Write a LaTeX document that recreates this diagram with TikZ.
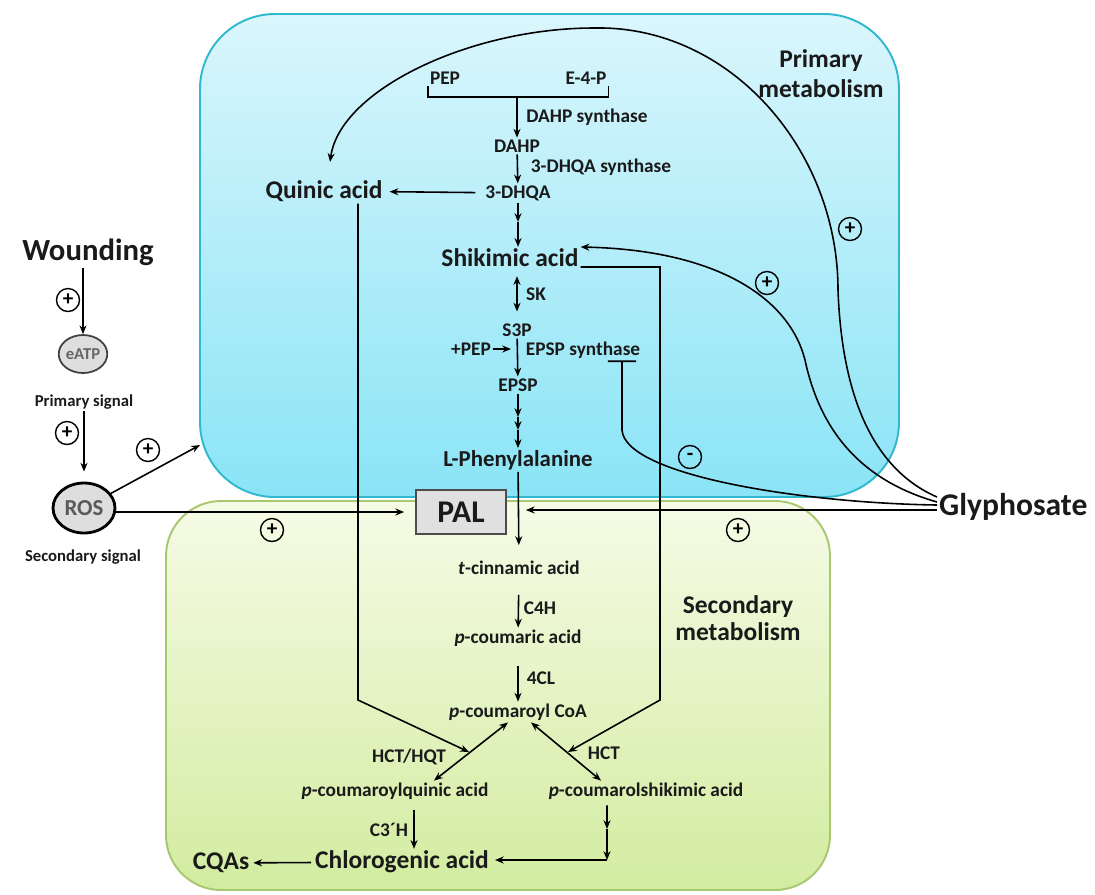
\documentclass[tikz,border=0pt]{standalone}
\usepackage{fontspec}
\setmainfont{Carlito}
\usetikzlibrary{arrows.meta,shapes.geometric}

\definecolor{bluetop}{RGB}{218,246,252}
\definecolor{bluebot}{RGB}{138,228,246}
\definecolor{blueline}{RGB}{48,184,206}
\definecolor{greentop}{RGB}{246,251,230}
\definecolor{greenbot}{RGB}{210,236,160}
\definecolor{greenline}{RGB}{168,200,112}
\definecolor{ink}{RGB}{26,26,26}

\tikzset{
  cpd/.style={font=\bfseries\fontsize{11}{13}\selectfont, text=ink, inner sep=1pt},
  big/.style={font=\bfseries\fontsize{14.5}{17}\selectfont, text=ink, inner sep=1pt},
  phe/.style={font=\bfseries\fontsize{13}{15}\selectfont, text=ink, inner sep=1pt},
  huge/.style={font=\bfseries\fontsize{17.5}{20}\selectfont, text=ink, inner sep=1pt},
  sig/.style={font=\bfseries\fontsize{9.5}{11}\selectfont, text=ink, inner sep=1pt},
  sgn/.style={circle, draw, line width=0.8pt, inner sep=0pt, minimum size=0.46cm,
    font=\bfseries\fontsize{12}{12}\selectfont},
  palbox/.style={draw=black!70, fill=black!12, line width=1pt, minimum width=1.8cm,
    minimum height=0.88cm, font=\bfseries\fontsize{18}{20}\selectfont, text=ink},
  arr/.style={-{Stealth[length=5pt,width=4pt]}, line width=0.9pt},
  dbl/.style={{Stealth[length=5pt,width=4pt]}-{Stealth[length=5pt,width=4pt]}, line width=0.9pt},
  inh/.style={-{Bar[width=16pt]}, line width=0.9pt}
}

\begin{document}
\begin{tikzpicture}[x=0.02cm, y=-0.02cm]
  \useasboundingbox (0,0) rectangle (1095,894);

  % Draw compartments
  \draw[draw=greenline, line width=1.1pt, top color=greentop, bottom color=greenbot,
    rounded corners=1.1cm] (166,501) rectangle (830,890);
  \draw[draw=blueline, line width=1.1pt, top color=bluetop, bottom color=bluebot,
    rounded corners=1.5cm] (200,14) rectangle (899,497);
  \node[big, align=center] (prim) at (821,74) {Primary\\metabolism};
  \node[big, align=center] (sec) at (738,618) {Secondary\\[-2pt]metabolism};

  % Shikimate pathway
  \node[cpd] (PEP) at (445,78) {PEP};
  \node[cpd] (E4P) at (586,78) {E-4-P};
  \node[cpd] (DAHP) at (517,146) {DAHP};
  \node[cpd] (DHQA) at (518,193) {3-DHQA};
  \node[big] (Quinic) at (324,191) {Quinic acid};
  \node[big] (Shik) at (510,258) {Shikimic acid};
  \node[cpd] (S3P) at (517,330) {S3P};
  \node[cpd] (EPSP) at (518,385) {EPSP};
  \node[phe] (Phe) at (518,460) {L-Phenylalanine};
  \node[palbox] (PAL) at (461,512) {PAL};

  % Phenylpropanoid pathway
  \node[cpd] (tcin) at (519,568) {\textit{t}-cinnamic acid};
  \node[cpd] (pcoum) at (518,638) {\textit{p}-coumaric acid};
  \node[cpd] (CoA) at (518,712) {\textit{p}-coumaroyl CoA};
  \node[cpd] (pCQ) at (395,791) {\textit{p}-coumaroylquinic acid};
  \node[cpd] (pCS) at (646,791) {\textit{p}-coumarolshikimic acid};
  \node[big] (Chloro) at (402,862) {Chlorogenic acid};
  \node[big] (CQA) at (221,863) {CQAs};

  % Enzyme labels
  \node[cpd] (dahps) at (587,117) {DAHP synthase};
  \node[cpd] (dhqas) at (601,167) {3-DHQA synthase};
  \node[cpd] (sk) at (536,294) {SK};
  \node[cpd] (pep2) at (471,349) {+PEP};
  \node[cpd] (epsps) at (583,350) {EPSP synthase};
  \node[cpd] (c4h) at (540,608) {C4H};
  \node[cpd] (fourcl) at (541,678) {4CL};
  \node[cpd] (hqt) at (409,757) {HCT/HQT};
  \node[cpd] (hct) at (604,753) {HCT};
  \node[cpd] (c3h) at (389,830) {C3´H};

  % Signals
  \node[huge] (Wound) at (88,252) {Wounding};
  \node[ellipse, draw=black!75, fill=black!13, line width=1pt, minimum width=0.9cm,
    minimum height=0.76cm, inner sep=0pt, text=black!60,
    font=\bfseries\fontsize{9.5}{10}\selectfont] (eATP) at (83,354) {eATP};
  \node[sig] (psig) at (84,402) {Primary signal};
  \node[ellipse, draw, fill=black!13, line width=1.6pt, minimum width=1.24cm,
    minimum height=1.0cm, inner sep=0pt, text=black!65,
    font=\bfseries\fontsize{13}{14}\selectfont] (ROS) at (84,508) {ROS};
  \node[sig] (ssig) at (83,557) {Secondary signal};
  \node[huge, anchor=west, font=\bfseries\fontsize{18}{20}\selectfont] (Gly) at (937,507) {Glyphosate};

  % Draw + and - signs
  \node[sgn] (w1) at (68,300) {+};
  \node[sgn] (w2) at (67,433) {+};
  \node[sgn] (w3) at (148,450) {+};
  \node[sgn] (w4) at (272,530) {+};
  \node[sgn] (g1) at (738,530) {+};
  \node[sgn] (g2) at (767,283) {+};
  \node[sgn] (g3) at (850,229) {+};
  \node[sgn] (g4) at (690,457) {-};

  % Draw pathway arrows
  \coordinate (br) at (517,97);
  \draw[line width=0.9pt] (PEP.south west) |- (br) -| (E4P.south east);
  \draw[arr] (br) -- (DAHP);
  \draw[arr] (DAHP) -- (DHQA);
  \draw[arr, shorten <=0.16cm, shorten >=0.1cm] (DHQA) -- (Quinic);
  \coordinate (dq1) at (518,222);
  \draw[arr] (DHQA) -- (dq1);
  \draw[arr] (dq1) -- (dq1 |- Shik.north);
  \draw[dbl, shorten <=0.14cm, shorten >=0.2cm] (Shik.south -| S3P) -- (S3P);
  \draw[arr] (S3P) -- (EPSP);
  \draw[arr, shorten >=0.12cm] (pep2) -- (pep2 -| S3P);
  \coordinate (ep1) at (518,417);
  \coordinate (ep2) at (518,430);
  \draw[arr] (EPSP) -- (ep1);
  \draw[arr] (ep1) -- (ep2);
  \draw[arr] (ep2) -- (Phe);
  \draw[arr, shorten >=0.28cm] (Phe) -- (tcin);
  \draw[arr, shorten <=0.36cm] (tcin) -- (pcoum);
  \draw[arr, shorten <=0.36cm] (pcoum) -- (CoA);
  \draw[dbl] ([xshift=-0.2cm]CoA.south) -- ([xshift=0.78cm]pCQ.north);
  \draw[dbl] ([xshift=0.26cm]CoA.south) -- ([xshift=-0.9cm]pCS.north);
  \draw[arr, shorten <=0.18cm] ([xshift=0.38cm]pCQ.south) -- ([xshift=0.38cm]pCQ.south |- Chloro.north);
  \coordinate (cs1) at (607,829);
  \coordinate (cs2) at (607,860);
  \draw[arr, shorten <=0.08cm] ([xshift=-0.78cm]pCS.south) -- (cs1);
  \draw[arr] (cs1) -- (cs2);
  \draw[arr, shorten >=0.08cm] (cs2) -- (Chloro.east |- cs2);
  \draw[arr, shorten <=0.04cm, shorten >=0.04cm] (Chloro) -- (CQA);

  % Quinic and shikimic acid into the HCT steps
  \coordinate (ql) at (358,700);
  \coordinate (qend) at (469,752);
  \draw[arr] (Quinic.south -| ql) -- (ql) -- (qend);
  \coordinate (sr) at (660,700);
  \coordinate (send) at (568,752);
  \draw[arr] ([yshift=-0.18cm]Shik.east) -| (sr) -- (send);

  % Wounding signals
  \draw[arr] (Wound.south -| eATP) -- (eATP);
  \draw[arr, shorten >=0.2cm] (psig.south -| ROS) -- (ROS);
  \coordinate (bluein) at (200,445);
  \draw[arr] (ROS) -- (bluein);
  \draw[arr, shorten >=0.22cm] (ROS.east |- PAL) -- (PAL.west);

  % Glyphosate effects
  \coordinate (qin) at (330,162);
  \draw[arr] ([yshift=0.2cm]Gly.west) .. controls (875,470) and (842,400) .. (838,290)
    .. controls (838,150) and (730,25) .. (594,28)
    .. controls (470,28) and (340,90) .. (qin);
  \draw[arr] ([yshift=0.1cm]Gly.west) .. controls (860,480) and (820,430) .. (805,360)
    .. controls (790,300) and (720,250) .. ([yshift=0.22cm]Shik.east);
  \draw[inh] ([yshift=0.04cm]Gly.west) .. controls (800,503) and (625,475) .. (622,430)
    -- ([xshift=0.78cm]epsps.south);
  \draw[arr, shorten >=0.38cm] ([yshift=-0.06cm]Gly.west) -- ([yshift=-0.06cm]Gly.west -| PAL.east);
\end{tikzpicture}
\end{document}
